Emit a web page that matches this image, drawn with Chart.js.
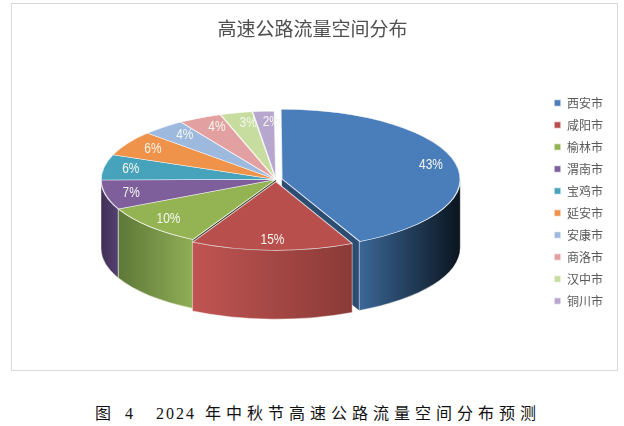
<!DOCTYPE html>
<html>
<head>
<meta charset="utf-8">
<style>
    html, body { margin: 0; padding: 0; background: #fff; width: 624px; height: 426px; overflow: hidden; }
    #chartBox { position: absolute; left: 11px; top: 3px; width: 605px; height: 366px; border: 1px solid #d9d9d9; }
    #caption { position: absolute; left: 6px; top: 400px; width: 624px; text-align: center; white-space: pre;
        font: 16px "Liberation Serif", "Noto Sans CJK SC", serif; letter-spacing: 5px; color: #111; }
    #caption span { letter-spacing: 2px; }
</style>
</head>
<body>
<div id="chartBox"><canvas id="FlowChart" width="605" height="366"></canvas></div>
<div id="caption">图 4  <span>2024</span> 年中秋节高速公路流量空间分布预测</div>
<script src="https://cdn.jsdelivr.net/npm/chart.js@4/dist/chart.umd.min.js"></script>
<script>
var cities = ["西安市", "咸阳市", "榆林市", "渭南市", "宝鸡市", "延安市", "安康市", "商洛市", "汉中市", "铜川市"];
var shares = [43, 15, 10, 7, 6, 6, 4, 4, 3, 2];

var topColors = ["#4a7ebb", "#b94f4c", "#94b454", "#7e5f9b", "#47a3bc", "#ef934a", "#9eb9de", "#e2a1a0", "#c7dda0", "#b7a6ce"];
var wallColors = [
    ["#3b6797", "#0a141e"],
    ["#c05552", "#8a3a37"],
    ["#5d7838", "#90ae56"],
    ["#3f3056", "#54406f"]
];
var sliceOffsets = [24, 22, 0, 0, 0, 0, 0, 0, 0, 0];

var squash = 0.39;
var wallDepth = 69;
var liftY = 17.5;
var shiftX = -2;

function sliceGeometry(arc, index) {
    // same shift the arc element applies to itself when it has an offset
    var t = sliceOffsets[index] / 4;
    var half = (arc.startAngle + arc.endAngle) / 2;
    var fix = 1 - Math.sin(Math.min(Math.PI, arc.circumference));
    return {
        x: arc.x + shiftX + Math.cos(half) * t,
        y: arc.y - liftY + Math.sin(half) * t * squash,
        r: arc.outerRadius + t * fix
    };
}

function drawCut(ctx, arc, index, angle, color) {
    var g = sliceGeometry(arc, index);
    var ex = g.x + Math.cos(angle) * g.r;
    var ey = g.y + Math.sin(angle) * g.r * squash;
    ctx.beginPath();
    ctx.moveTo(g.x, g.y);
    ctx.lineTo(ex, ey);
    ctx.lineTo(ex, ey + wallDepth);
    ctx.lineTo(g.x, g.y + wallDepth);
    ctx.closePath();
    ctx.fillStyle = color;
    ctx.fill();
}

function drawWall(ctx, arc, index) {
    var a0 = Math.max(arc.startAngle, 0);
    var a1 = Math.min(arc.endAngle, Math.PI);
    if (a1 <= a0) {
        return;
    }
    var g = sliceGeometry(arc, index);
    var left = g.x + Math.cos(a1) * g.r;
    var right = g.x + Math.cos(a0) * g.r;
    var grad = ctx.createLinearGradient(left, 0, right, 0);
    grad.addColorStop(0, wallColors[index][0]);
    grad.addColorStop(1, wallColors[index][1]);
    ctx.beginPath();
    ctx.ellipse(g.x, g.y, g.r, g.r * squash, 0, a0, a1);
    ctx.ellipse(g.x, g.y + wallDepth, g.r, g.r * squash, 0, a1, a0, true);
    ctx.closePath();
    ctx.fillStyle = grad;
    ctx.fill();
    ctx.strokeStyle = "rgba(255,255,255,0.45)";
    ctx.lineWidth = 1;
    ctx.stroke();
}

var tiltedPie = {
    id: "tiltedPie",
    beforeDatasetDraw: function (chart, args) {
        var ctx = chart.ctx;
        var arcs = args.meta.data;
        drawCut(ctx, arcs[0], 0, arcs[0].endAngle, "#2c4d72");
        drawWall(ctx, arcs[0], 0);
        drawWall(ctx, arcs[3], 3);
        drawCut(ctx, arcs[2], 2, arcs[2].startAngle, "#1c2812");
        drawWall(ctx, arcs[2], 2);
        drawWall(ctx, arcs[1], 1);

        // the slices themselves are drawn by the library, only flattened
        ctx.save();
        ctx.translate(shiftX, arcs[0].y - liftY);
        ctx.scale(1, squash);
        ctx.translate(0, -arcs[0].y);
    },
    afterDatasetDraw: function (chart, args) {
        var ctx = chart.ctx;
        ctx.restore();

        ctx.save();
        ctx.font = '14.5px "Liberation Sans", sans-serif';
        ctx.fillStyle = "#f4f6ee";
        ctx.textAlign = "center";
        ctx.textBaseline = "middle";
        args.meta.data.forEach(function (arc, i) {
            var g = sliceGeometry(arc, i);
            var half = (arc.startAngle + arc.endAngle) / 2;
            var lx = g.x + Math.cos(half) * g.r * 0.85;
            var ly = g.y + Math.sin(half) * g.r * 0.85 * squash;
            // labels at the back sit a little to the right in the original
            lx += 6 * Math.max(0, -Math.sin(half));
            // narrow look of the original labels
            ctx.save();
            ctx.translate(lx, ly);
            ctx.scale(0.82, 1);
            ctx.fillText(shares[i] + "%", 0, 0);
            ctx.restore();
        });
        ctx.restore();
    }
};

var ctx = document.getElementById("FlowChart").getContext("2d");
var flowChart = new Chart(ctx, {
    type: "pie",
    plugins: [tiltedPie],
    data: {
        labels: cities,
        datasets: [{
            data: shares,
            backgroundColor: topColors,
            borderColor: "rgba(255,255,255,0.75)",
            borderWidth: 1.5,
            offset: sliceOffsets,
            radius: 175,
            rotation: -0.5,
            clip: false
        }]
    },
    options: {
        responsive: false,
        animation: false,
        devicePixelRatio: 1,
        events: [],
        layout: { padding: { right: 4, bottom: 53 } },
        plugins: {
            tooltip: { enabled: false },
            title: {
                display: true,
                text: "高速公路流量空间分布",
                color: "#505050",
                font: { family: '"Noto Sans CJK SC"', size: 19, weight: "normal" },
                padding: { top: 13, bottom: 37 }
            },
            legend: {
                position: "right",
                align: "end",
                labels: {
                    boxWidth: 7,
                    boxHeight: 7,
                    padding: 10,
                    color: "#595959",
                    font: { family: '"Noto Sans CJK SC"', size: 12 }
                }
            }
        }
    }
});
</script>
</body>
</html>
